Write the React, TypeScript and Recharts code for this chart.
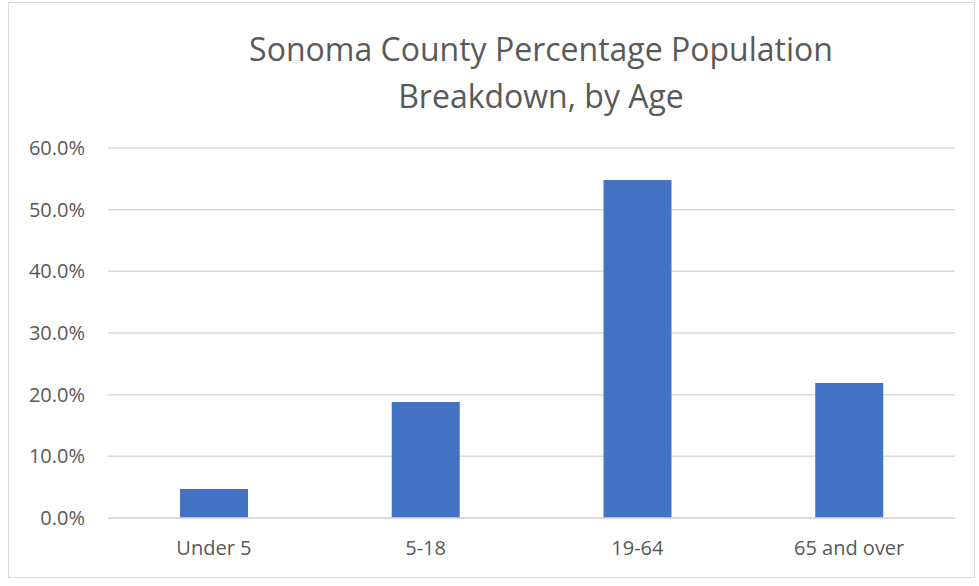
import { BarChart, Bar, XAxis, YAxis, CartesianGrid } from 'recharts'

// Sonoma County — share of population per age group (%)
const AGE_GROUPS = ['Under 5', '5-18', '19-64', '65 and over']
const SHARE_PCT = [4.7, 18.8, 54.8, 21.9]
const Y_TICKS = [0, 10, 20, 30, 40, 50, 60]

const TITLE_LINES = ['Sonoma County Percentage Population', 'Breakdown, by Age']

const BAR_COLOR = '#4472C4'
const GRID_COLOR = '#d9d9d9'
const TEXT_COLOR = '#595959'
const FONT = "'Open Sans', 'Liberation Sans', sans-serif"

const data = AGE_GROUPS.map((age, i) => ({ age, share: SHARE_PCT[i] }))

export default function App() {
  return (
    <div
      style={{
        position: 'absolute',
        top: 0,
        left: 0,
        width: 979,
        height: 586,
        background: '#fff',
        fontFamily: FONT,
      }}
    >
      {/* chart frame */}
      <div
        style={{
          position: 'absolute',
          left: 8,
          top: 2,
          width: 967,
          height: 576,
          border: `1px solid ${GRID_COLOR}`,
          boxSizing: 'border-box',
        }}
      />

      {/* title */}
      <div
        style={{
          position: 'absolute',
          left: 0,
          top: 25,
          width: 1082,
          textAlign: 'center',
          fontSize: 32,
          lineHeight: '47px',
          color: TEXT_COLOR,
        }}
      >
        {TITLE_LINES.map((line) => (
          <div key={line}>{line}</div>
        ))}
      </div>

      <div style={{ position: 'absolute', left: 0, top: 0 }}>
        <BarChart
          width={979}
          height={586}
          data={data}
          margin={{ top: 148, right: 24, bottom: 0, left: 0 }}
          barCategoryGap="34%"
        >
          <CartesianGrid vertical={false} stroke={GRID_COLOR} strokeWidth={1.5} />
          <XAxis
            dataKey="age"
            height={68}
            axisLine={{ stroke: GRID_COLOR, strokeWidth: 1.5 }}
            tickLine={false}
            tickMargin={17}
            tick={{ fontSize: 20, fill: TEXT_COLOR, fontFamily: FONT }}
          />
          <YAxis
            width={108}
            domain={[0, 60]}
            ticks={Y_TICKS}
            interval={0}
            axisLine={false}
            tickLine={false}
            tickMargin={17}
            tickFormatter={(v) => `${Number(v).toFixed(1)}%`}
            tick={{ fontSize: 20, fill: TEXT_COLOR, fontFamily: FONT }}
          />
          <Bar dataKey="share" fill={BAR_COLOR} isAnimationActive={false} />
        </BarChart>
      </div>
    </div>
  )
}
